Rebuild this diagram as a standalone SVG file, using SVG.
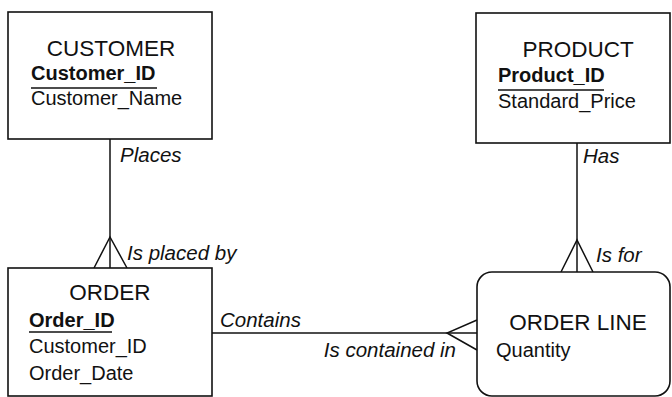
<svg xmlns="http://www.w3.org/2000/svg" width="672" height="397" viewBox="0 0 672 397">
<style>
.box{fill:#fff;stroke:#111;stroke-width:1.6}
.ln{fill:none;stroke:#111;stroke-width:1.5}
.title{font-family:"Liberation Sans",Arial,sans-serif;font-size:22.5px;fill:#111;text-anchor:middle}
.attr{font-family:"Liberation Sans",Arial,sans-serif;font-size:20px;fill:#111}
.key{font-weight:bold}
.lbl{font-family:"Liberation Sans",Arial,sans-serif;font-size:20.5px;font-style:italic;fill:#111}
</style>
<rect width="672" height="397" fill="#fff"/>
<g id="connectors">
  <path class="ln" d="M110,139 V268"/>
  <path class="ln" d="M94,268 L110,237 L127,268"/>
  <path class="ln" d="M577,143 V272"/>
  <path class="ln" d="M561,272 L577,240 L593,272"/>
  <path class="ln" d="M212,333 H477"/>
  <path class="ln" d="M477,320 L447,333 L477,350"/>
  <text class="lbl" x="120" y="162">Places</text>
  <text class="lbl" x="127" y="260">Is placed by</text>
  <text class="lbl" x="583" y="163">Has</text>
  <text class="lbl" x="596" y="262">Is for</text>
  <text class="lbl" x="220" y="327">Contains</text>
  <text class="lbl" x="456" y="357" text-anchor="end">Is contained in</text>
</g>
<g id="customer">
  <rect class="box" x="8" y="12" width="204" height="127"/>
  <text class="title" x="111" y="56">CUSTOMER</text>
  <text class="attr key" x="31" y="80">Customer_ID</text>
  <line class="ln" x1="31" y1="88" x2="157" y2="88"/>
  <text class="attr" x="31" y="105">Customer_Name</text>
</g>
<g id="product">
  <rect class="box" x="476" y="13" width="194" height="130"/>
  <text class="title" x="578" y="57">PRODUCT</text>
  <text class="attr key" x="498" y="82">Product_ID</text>
  <line class="ln" x1="498" y1="90" x2="604" y2="90"/>
  <text class="attr" x="498" y="108">Standard_Price</text>
</g>
<g id="order">
  <rect class="box" x="8" y="268" width="204" height="128"/>
  <text class="title" x="110" y="300">ORDER</text>
  <text class="attr key" x="29" y="327">Order_ID</text>
  <line class="ln" x1="29" y1="332" x2="112" y2="332"/>
  <text class="attr" x="29" y="353">Customer_ID</text>
  <text class="attr" x="29" y="380">Order_Date</text>
</g>
<g id="order-line">
  <rect class="box" x="477" y="272" width="193" height="124" rx="15" ry="15"/>
  <text class="title" x="578" y="330">ORDER LINE</text>
  <text class="attr" x="496" y="357">Quantity</text>
</g>
</svg>
